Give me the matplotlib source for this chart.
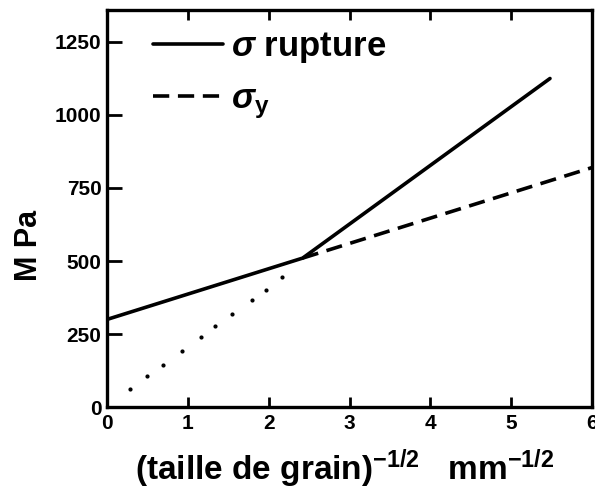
import numpy as np
import matplotlib
matplotlib.use('Agg')
import matplotlib.pyplot as plt

# data
x_rupt = [0.0, 2.42, 5.48]
y_rupt = [300, 510, 1125]
x_yield = [2.42, 6.0]
y_yield = [510, 820]
x_dots = [0.28, 0.49, 0.69, 0.93, 1.16, 1.34, 1.55, 1.79, 1.96, 2.17]
y_dots = [61, 105, 145, 192, 240, 277, 318, 368, 402, 446]
xticks = [0, 1, 2, 3, 4, 5, 6]
yticks = [0, 250, 500, 750, 1000, 1250]

# fig config
plt.rcParams['font.family'] = ['Liberation Sans', 'DejaVu Sans']
plt.rcParams['font.weight'] = 'bold'
plt.rcParams['mathtext.fontset'] = 'custom'
plt.rcParams['mathtext.rm'] = 'Liberation Sans:bold'
plt.rcParams['mathtext.it'] = 'Liberation Sans:bold:italic'
plt.rcParams['mathtext.bf'] = 'Liberation Sans:bold'
fsize_tick = 15
fsize_label = 24
fsize_leg = 25
line_wid = 2.6

fig = plt.figure(figsize=(5.95, 4.93), dpi=100)
ax = fig.add_axes([0.180, 0.1744, 0.815, 0.8056])

ax.plot(x_rupt, y_rupt, 'k-', lw=line_wid, solid_capstyle='round',
        label=r'$\sigma$ rupture')
ax.plot(x_yield, y_yield, color='k', lw=line_wid, ls=(0, (4.5, 2.4)),
        label=r'$\sigma_\mathbf{y}$')
ax.plot(x_dots, y_dots, 'k.', ms=4)

ax.set_xlim(0, 6)
ax.set_ylim(0, 1360)
ax.set_xticks(xticks)
ax.set_yticks(yticks)
for sp in ax.spines.values():
    sp.set_linewidth(2.4)
ax.tick_params(axis='x', direction='in', length=7, width=2, top=True,
               labelsize=fsize_tick, pad=5)
ax.tick_params(axis='y', direction='in', length=11, width=2, right=False,
               labelsize=fsize_tick, pad=4)

ax.set_xlabel(r'(taille de grain)$^{\mathbf{-1/2}}$   mm$^{\mathbf{-1/2}}$',
              fontsize=fsize_label, fontweight='bold')
ax.xaxis.set_label_coords(0.49, -0.1)
ax.set_ylabel('M Pa', fontsize=22, fontweight='bold')
ax.yaxis.set_label_coords(-0.13, 0.408)

leg = ax.legend(loc='upper left', frameon=False, fontsize=fsize_leg,
                handlelength=2.0, handletextpad=0.25, labelspacing=0.5,
                borderpad=0, borderaxespad=0, bbox_to_anchor=(0.095, 0.95))

fig.savefig('out.png', dpi=100)
